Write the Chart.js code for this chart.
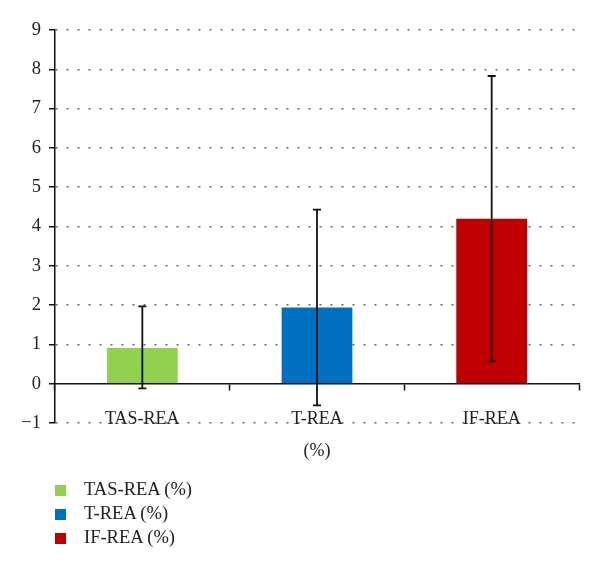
<!DOCTYPE html>
<html>
<head>
<meta charset="utf-8">
<script src="https://cdn.jsdelivr.net/npm/chart.js@4"></script>
<style>
  html, body { margin: 0; padding: 0; background: #fff; }
  #wrap { position: relative; width: 600px; height: 571px; }
  #legend { position: absolute; left: 55px; top: 477px; font-family: "Liberation Serif", serif; font-size: 18.5px; color: #222; }
  #legend div { height: 24px; line-height: 24px; }
  #legend span.box { display: inline-block; width: 11px; height: 11px; margin-right: 18px; vertical-align: -1px; }
</style>
</head>
<body>
<div id="wrap">
  <canvas id="chart" width="600" height="571"></canvas>
  <div id="legend"></div>
</div>
<script>
// categories and values
const categories = ['TAS-REA', 'T-REA', 'IF-REA'];
const legendLabels = ['TAS-REA (%)', 'T-REA (%)', 'IF-REA (%)'];
const means = [0.91, 1.94, 4.2];
const errLow = [-0.12, -0.55, 0.57];
const errHigh = [1.97, 4.43, 7.83];
const barColors = ['#92d050', '#0070c0', '#c00000'];
const yTicks = [-1, 0, 1, 2, 3, 4, 5, 6, 7, 8, 9];

const serif = '"Liberation Serif", "Times New Roman", serif';

// error bars drawn through the chart's scales
const errorBars = {
    id: 'errorBars',
    afterDatasetsDraw(chart) {
        const ctx = chart.ctx;
        const x = chart.scales.x, y = chart.scales.y;
        ctx.save();
        ctx.strokeStyle = '#111';
        ctx.lineWidth = 1.8;
        categories.forEach((c, i) => {
            const px = x.getPixelForValue(i);
            const top = y.getPixelForValue(errHigh[i]);
            const bot = y.getPixelForValue(errLow[i]);
            ctx.beginPath();
            ctx.moveTo(px, top); ctx.lineTo(px, bot);
            ctx.moveTo(px - 4, top); ctx.lineTo(px + 4, top);
            ctx.moveTo(px - 4, bot); ctx.lineTo(px + 4, bot);
            ctx.stroke();
        });
        ctx.restore();
    }
};

new Chart(document.getElementById('chart'), {
    type: 'bar',
    data: {
        labels: categories,
        datasets: [{
            data: means,
            backgroundColor: barColors,
            barPercentage: 0.405,
            categoryPercentage: 1
        }]
    },
    options: {
        responsive: false,
        animation: false,
        layout: { padding: { left: 0, top: 30, right: 21, bottom: 148 } },
        plugins: {
            legend: { display: false },
            tooltip: { enabled: false }
        },
        scales: {
            y: {
                min: -1,
                max: 9,
                afterBuildTicks: (scale) => { scale.ticks = yTicks.map(v => ({ value: v })); },
                afterFit: (scale) => { scale.width = 55; },
                border: { color: '#111', width: 1.5, dash: [2, 9] },
                grid: {
                    color: (c) => c.tick && c.tick.value === 0 ? 'rgba(0,0,0,0)' : '#666',
                    lineWidth: 1.5,
                    tickColor: '#111',
                    tickLength: 6,
                    tickWidth: 1.5,
                    tickBorderDash: []
                },
                ticks: {
                    color: '#222',
                    padding: 8,
                    font: { family: serif, size: 18.5 },
                    callback: (v) => v < 0 ? '\u2212' + Math.abs(v) : String(v)
                }
            },
            x: {
                position: { y: 0 },
                offset: true,
                border: { color: '#111', width: 1.5 },
                grid: {
                    offset: true,
                    drawOnChartArea: false,
                    tickColor: '#111',
                    tickLength: 6,
                    tickWidth: 1.5
                },
                ticks: {
                    color: '#222',
                    padding: 19,
                    font: { family: serif, size: 18 }
                },
                title: {
                    display: true,
                    text: '(%)',
                    color: '#222',
                    padding: { top: -9, bottom: 0 },
                    font: { family: serif, size: 18 }
                }
            }
        }
    },
    plugins: [errorBars]
});

const legend = document.getElementById('legend');
legendLabels.forEach((l, i) => {
    const row = document.createElement('div');
    row.innerHTML = '<span class="box" style="background:' + barColors[i] + '"></span>' + l;
    legend.appendChild(row);
});
</script>
</body>
</html>
